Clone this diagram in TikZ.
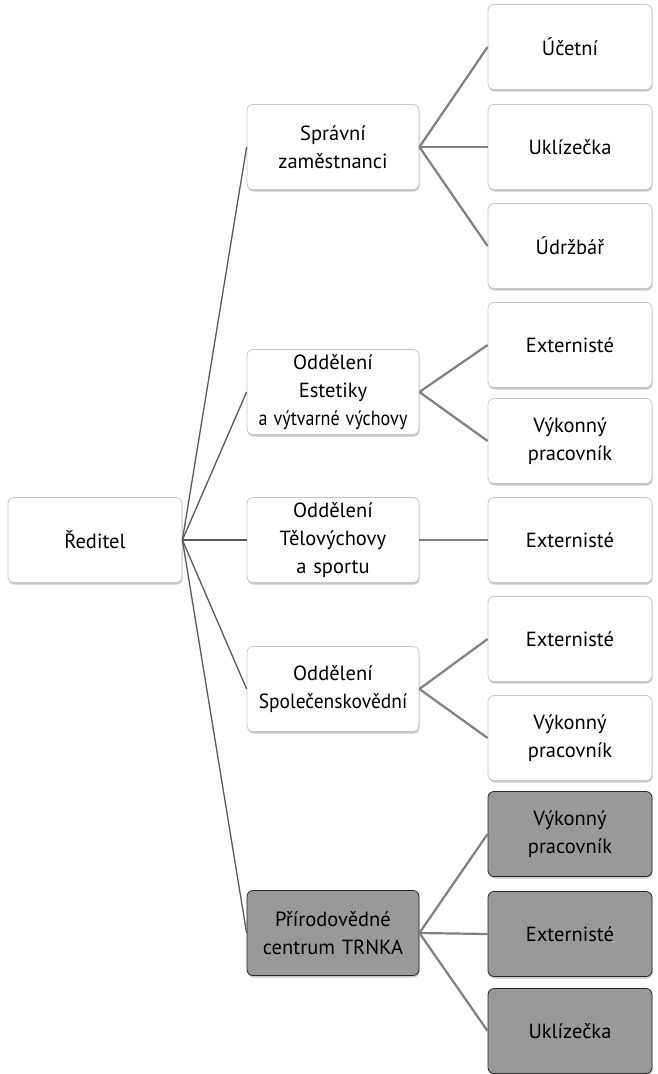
\documentclass[tikz,border=0pt]{standalone}
\usepackage{fontspec}
\setmainfont{PT Sans}
\usetikzlibrary{shadows}
\begin{document}
\begin{tikzpicture}[x=1pt,y=-1pt,
  box/.style={draw=black!22,line width=0.8pt,fill=white,rounded corners=6pt,
    minimum height=85pt,align=center,font=\fontsize{20.5}{28}\selectfont,
    inner sep=1pt,
    drop shadow={opacity=0.35,shadow xshift=0.6pt,shadow yshift=-2pt,fill=black!60}},
  l2/.style={box,minimum width=172pt,text width=170pt},
  l3/.style={box,minimum width=164pt,text width=162pt},
  dark/.style={fill=black!40,draw=black!85},
  link/.style={draw=black!65,line width=1.3pt},
  sublink/.style={draw=black!50,line width=2.2pt}]
\useasboundingbox (0,0) rectangle (657,1074);
% level 1
\node[box,minimum width=174pt,text width=172pt] (r) at (95,540) {Ředitel};
% level 2
\node[l2] (s) at (333,147) {Správní\\zaměstnanci};
\node[l2] (e) at (333,392) {Oddělení\\Estetiky\\\scalebox{0.88}[1]{a výtvarné výchovy}};
\node[l2] (t) at (333,540) {Oddělení\\Tělovýchovy\\a sportu};
\node[l2] (sp) at (333,689) {Oddělení\\\scalebox{0.95}[1]{Společenskovědní}};
\node[l2,dark] (p) at (333,933) {Přírodovědné\\centrum TRNKA};
% level 3
\node[l3] (s1) at (570,47) {Účetní};
\node[l3] (s2) at (570,147) {Uklízečka};
\node[l3] (s3) at (570,246) {Údržbář};
\node[l3] (e1) at (570,345) {Externisté};
\node[l3] (e2) at (570,441) {Výkonný\\pracovník};
\node[l3] (t1) at (570,540) {Externisté};
\node[l3] (sp1) at (570,639) {Externisté};
\node[l3] (sp2) at (570,738) {Výkonný\\pracovník};
\node[l3,dark] (p1) at (570,834) {Výkonný\\pracovník};
\node[l3,dark] (p2) at (570,934) {Externisté};
\node[l3,dark] (p3) at (570,1031) {Uklízečka};
% connectors
\foreach \c in {s,e,t,sp,p} \draw[link] (r.east) -- (\c.west);
\foreach \c in {s1,s2,s3} \draw[sublink] (s.east) -- (\c.west);
\foreach \c in {e1,e2} \draw[sublink] (e.east) -- (\c.west);
\draw[sublink] (t.east) -- (t1.west);
\foreach \c in {sp1,sp2} \draw[sublink] (sp.east) -- (\c.west);
\foreach \c in {p1,p2,p3} \draw[sublink] (p.east) -- (\c.west);
\end{tikzpicture}
\end{document}
